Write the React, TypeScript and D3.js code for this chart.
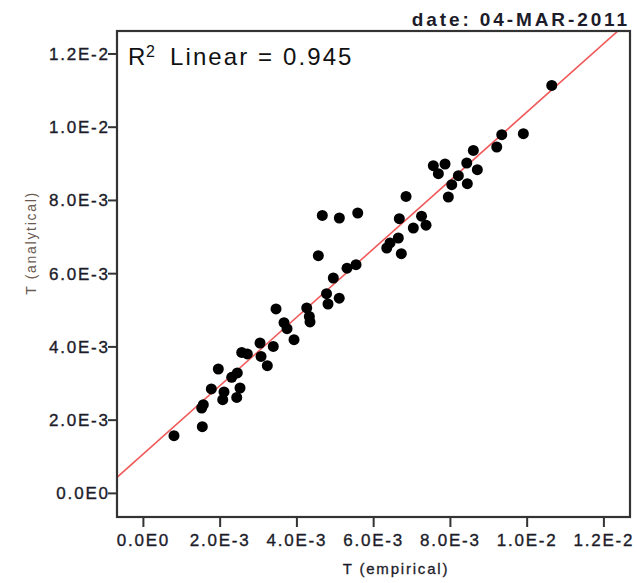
import React from "react";
import * as d3 from "d3";

// Empirical T values (x 1e-3)
const empirical = [
  0.797, 1.535, 1.519, 1.561, 1.77, 1.952, 2.101, 2.067, 2.301, 2.447,
  2.518, 2.432, 2.562, 2.708, 3.039, 3.065, 3.229, 3.385, 3.456, 3.664,
  3.743, 3.925, 4.256, 4.324, 4.342, 4.558, 4.662, 4.772, 4.811, 4.949,
  5.106, 5.103, 5.306, 5.541, 5.585, 6.341, 6.427, 6.643, 6.669, 6.721,
  6.844, 7.034, 7.248, 7.365, 7.555, 7.686, 7.86, 7.946, 8.035, 8.207,
  8.426, 8.441, 8.598, 8.702, 9.208, 9.338, 9.901, 10.641,
];
// Analytical T values (x 1e-3)
const analytical = [
  1.576, 1.821, 2.332, 2.422, 2.851, 3.397, 2.769, 2.559, 3.168, 3.288,
  2.878, 2.621, 3.85, 3.807, 4.107, 3.741, 3.487, 4.014, 5.036, 4.661,
  4.498, 4.197, 5.063, 4.833, 4.681, 6.491, 7.591, 5.453, 5.172, 5.882,
  7.52, 5.33, 6.15, 6.245, 7.657, 6.701, 6.838, 6.974, 7.501, 6.546,
  8.11, 7.247, 7.57, 7.324, 8.949, 8.73, 8.995, 8.094, 8.43, 8.676,
  9.022, 8.457, 9.367, 8.839, 9.459, 9.795, 9.823, 11.141,
];

const fitIntercept = 1.08e-3;
const fitSlope = 0.934;
const rSquared = "0.945";
const dateLabel = "date: 04-MAR-2011";

const tickValues = [0, 0.002, 0.004, 0.006, 0.008, 0.01, 0.012];
const tickLabels = ["0.0E0", "2.0E-3", "4.0E-3", "6.0E-3", "8.0E-3", "1.0E-2", "1.2E-2"];

const xTitle = "T (empirical)";
const yTitle = "T (analytical)";

const W = 637;
const H = 583;
const L = 117, R = 630, T = 31, B = 517;
const FONT = "'Liberation Sans', Arial, sans-serif";
const TXT = "#1c1c2a";

export default function App() {
  const x = d3.scaleLinear().domain([-0.688e-3, 12.68e-3]).range([L, R]);
  const y = d3.scaleLinear().domain([-0.645e-3, 12.627e-3]).range([B, T]);

  const points = empirical.map((v, i) => ({ x: v * 1e-3, y: analytical[i] * 1e-3 }));

  const [x0, x1] = x.domain();
  const lineData = [x0, x1].map((v) => [v, fitIntercept + fitSlope * v] as [number, number]);
  const line = d3.line<[number, number]>().x((d) => x(d[0])).y((d) => y(d[1]));

  return (
    <svg width={W} height={H} style={{ position: "absolute", left: 0, top: 0, background: "#fff" }}>
      <defs>
        <clipPath id="plotclip">
          <rect x={L} y={T} width={R - L} height={B - T} />
        </clipPath>
      </defs>
      <rect x={0} y={0} width={W} height={H} fill="#fff" />

      {/* date label */}
      <text x={630} y={26} textAnchor="end" fontFamily={FONT} fontSize={19} fontWeight="bold"
        letterSpacing={2.9} fill={TXT}>{dateLabel}</text>

      {/* fit line */}
      <path d={line(lineData) || ""} stroke="#f05a5a" strokeWidth={1.6} fill="none" clipPath="url(#plotclip)" />

      {/* points */}
      <g clipPath="url(#plotclip)">
        {points.map((p, i) => (
          <circle key={i} cx={x(p.x)} cy={y(p.y)} r={5.5} fill="#000" />
        ))}
      </g>

      {/* frame */}
      <rect x={L} y={T} width={R - L} height={B - T} fill="none" stroke="#333" strokeWidth={2.2} />

      {/* y ticks */}
      {tickValues.map((v, i) => (
        <g key={"y" + i}>
          <line x1={L - 9} x2={L} y1={y(v)} y2={y(v)} stroke="#333" strokeWidth={2} />
          <text x={L - 9} y={y(v) + 6} textAnchor="end" fontFamily={FONT} fontSize={17}
            letterSpacing={1.8} fill={TXT} stroke={TXT} strokeWidth={0.35} dx={1.8}>{tickLabels[i]}</text>
        </g>
      ))}

      {/* x ticks */}
      {tickValues.map((v, i) => (
        <g key={"x" + i}>
          <line x1={x(v)} x2={x(v)} y1={B} y2={B + 10} stroke="#333" strokeWidth={2} />
          <text x={x(v)} y={546} textAnchor="middle" fontFamily={FONT} fontSize={17}
            letterSpacing={1.8} fill={TXT} stroke={TXT} strokeWidth={0.35}>{tickLabels[i]}</text>
        </g>
      ))}

      {/* R squared label */}
      <text x={128} y={65} fontFamily={FONT} fontSize={24} fill="#111">R</text>
      <text x={146} y={57} fontFamily={FONT} fontSize={16} fill="#111">2</text>
      <text x={170} y={65} fontFamily={FONT} fontSize={24} letterSpacing={2.1} fill="#111">
        {`Linear = ${rSquared}`}
      </text>

      {/* axis titles */}
      <text x={396} y={574} textAnchor="middle" fontFamily={FONT} fontSize={15} letterSpacing={1.8}
        fill={TXT} stroke={TXT} strokeWidth={0.3}>
        {xTitle}
      </text>
      <text transform={`translate(36, 243) rotate(-90)`} textAnchor="middle" fontFamily={FONT}
        fontSize={14} letterSpacing={1.7} fill="#6a5a50">{yTitle}</text>
    </svg>
  );
}
